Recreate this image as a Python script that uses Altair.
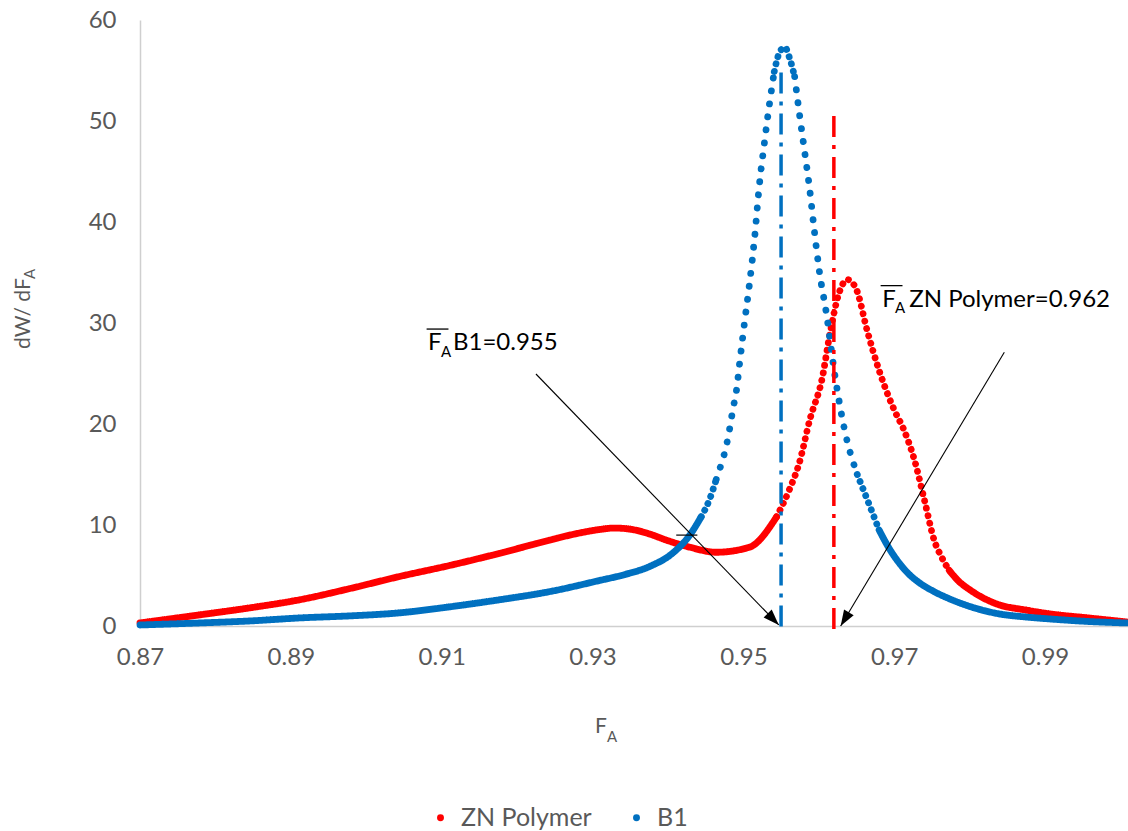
import math
import altair as alt
import pandas as pd

# ZN Polymer: copolymer composition F_A and distribution dW/dF_A
zn_fa = [0.8700, 0.8779, 0.8846, 0.8912, 0.8978, 0.9044, 0.9111, 0.9177, 0.9243, 0.9276,
         0.9309, 0.9329, 0.9353, 0.9376, 0.9398, 0.9429, 0.9464, 0.9508, 0.9544, 0.9561,
         0.9574, 0.9588, 0.9605, 0.9614, 0.9627, 0.9638, 0.9650, 0.9664, 0.9680, 0.9700,
         0.9713, 0.9727, 0.9740, 0.9753, 0.9763, 0.9773, 0.9786, 0.9800, 0.9820, 0.9839,
         0.9873, 0.9906, 0.9957, 1.0008]
zn_w = [0.3, 1.1, 1.8, 2.6, 3.7, 4.9, 6.0, 7.2, 8.5, 9.1,
        9.55, 9.7, 9.55, 9.1, 8.5, 7.8, 7.3, 7.8, 10.8, 13.5,
        16.1, 20.4, 24.7, 28.6, 33.0, 34.3, 33.3, 29.3, 25.3, 21.4,
        19.4, 16.4, 12.5, 8.5, 6.8, 5.5, 4.4, 3.6, 2.7, 2.1,
        1.6, 1.2, 0.8, 0.4]

# B1: copolymer composition F_A and distribution dW/dF_A
b1_fa = [0.8700, 0.8779, 0.8846, 0.8912, 0.8978, 0.9044, 0.9111, 0.9177, 0.9243, 0.9309,
         0.9343, 0.9376, 0.9406, 0.9429, 0.9444, 0.9455, 0.9464, 0.9471, 0.9477, 0.9482,
         0.9486, 0.9491, 0.9495, 0.9502, 0.9508, 0.9515, 0.9521, 0.9528, 0.9535, 0.9541,
         0.9548, 0.9555, 0.9561, 0.9568, 0.9574, 0.9581, 0.9588, 0.9594, 0.9601, 0.9610,
         0.9621, 0.9634, 0.9651, 0.9667, 0.9680, 0.9694, 0.9707, 0.9720, 0.9733, 0.9753,
         0.9773, 0.9806, 0.9839, 0.9873, 0.9906, 0.9957, 1.0008]
b1_w = [0.1, 0.3, 0.5, 0.8, 1.0, 1.3, 1.9, 2.6, 3.4, 4.5,
        5.1, 5.9, 7.2, 9.0, 10.8, 12.5, 14.5, 16.1, 17.7, 19.6,
        21.4, 23.4, 26.0, 30.3, 33.8, 38.5, 43.5, 47.9, 51.9, 54.9,
        56.8, 57.3, 56.3, 54.4, 50.9, 47.1, 43.2, 39.2, 35.0, 31.0,
        25.0, 19.5, 15.0, 12.0, 9.5, 7.6, 6.2, 5.1, 4.3, 3.4,
        2.7, 1.8, 1.2, 0.9, 0.7, 0.45, 0.3]

series_names = ["ZN Polymer", "B1"]
# average composition of each sample
mean_fa = [0.962, 0.955]
mean_labels = ["ZN Polymer=0.962", "B1=0.955"]

x_ticks = [0.87, 0.89, 0.91, 0.93, 0.95, 0.97, 0.99]
y_ticks = [0, 10, 20, 30, 40, 50, 60]

# ---- styling ----
FONT = "Lato"
GRAY = "#595959"
RED = "#FF0000"
BLUE = "#0070C0"
W, H = 988, 606
X_DOMAIN = [0.87, 1.001]
Y_DOMAIN = [0, 60]
PX_X = W / (X_DOMAIN[1] - X_DOMAIN[0])
PX_Y = H / (Y_DOMAIN[1] - Y_DOMAIN[0])

# marker density along each curve: dense (reads as solid), beaded, sparse dots
zn_runs = [(0.8700, 0.9544, "solid"), (0.9544, 0.9773, "mid"), (0.9773, 1.0008, "solid")]
b1_runs = [(0.8700, 0.9444, "solid"), (0.9444, 0.9464, "mid"), (0.9464, 0.9541, "steep"),
           (0.9541, 0.9568, "mid"), (0.9568, 0.9651, "steep"), (0.9651, 0.9680, "mid"),
           (0.9680, 1.0008, "solid")]


def curve_frame(name, xs, ys, runs):
    rows = []
    for i, (a, b, style) in enumerate(runs):
        for x, y in zip(xs, ys):
            if a - 1e-9 <= x <= b + 1e-9:
                rows.append({"fa": x, "w": y, "series": name, "style": style,
                             "seg": f"{name}-{i}"})
    return pd.DataFrame(rows)


zn_df = curve_frame("ZN Polymer", zn_fa, zn_w, zn_runs)
b1_df = curve_frame("B1", b1_fa, b1_w, b1_runs)
all_df = pd.concat([zn_df, b1_df], ignore_index=True)

x_scale = alt.Scale(domain=X_DOMAIN, nice=False, zero=False)
y_scale = alt.Scale(domain=Y_DOMAIN, nice=False, zero=False)
color_scale = alt.Scale(domain=series_names, range=[RED, BLUE])
dash_scale = alt.Scale(domain=["solid", "mid", "steep"],
                       range=[[1, 0], [0.1, 7.5], [0.1, 13]])

x_axis = alt.Axis(values=x_ticks, format=".2f", title=None, ticks=False, grid=False,
                  labelFont=FONT, labelFontSize=24, labelColor=GRAY, labelPadding=19,
                  domainColor="#CFCFCF", domainWidth=1.5, labelFlush=False)
y_axis = alt.Axis(values=y_ticks, title=None, ticks=False, grid=False,
                  labelFont=FONT, labelFontSize=24, labelColor=GRAY, labelPadding=24,
                  domainColor="#CFCFCF", domainWidth=1.5)


def X(field):
    return alt.X(field, scale=x_scale, axis=x_axis)


def Y(field):
    return alt.Y(field, scale=y_scale, axis=y_axis)


def curve_layer(df, color):
    return alt.Chart(df).mark_line(
        color=color, strokeWidth=6.8, strokeCap="round", strokeJoin="round",
        interpolate="monotone"
    ).encode(
        x=X("fa:Q"),
        y=Y("w:Q"),
        strokeDash=alt.StrokeDash("style:N", scale=dash_scale, legend=None),
        detail="seg:N",
        order=alt.Order("fa:Q"),
    )


zn_layer = curve_layer(zn_df, RED)
b1_layer = curve_layer(b1_df, BLUE)

# invisible markers that carry the series legend
legend_layer = alt.Chart(all_df).mark_circle(opacity=0, size=10).encode(
    x=X("fa:Q"),
    y=Y("w:Q"),
    color=alt.Color("series:N", scale=color_scale, legend=alt.Legend(
        title=None, orient="none", legendX=288, legendY=785, direction="horizontal",
        symbolType="circle", symbolSize=48, symbolOpacity=1, symbolStrokeWidth=0,
        labelFont=FONT, labelFontSize=25, labelColor=GRAY, labelOffset=8,
        columnPadding=32)),
)


# dash-dot markers at the average composition
def mean_layer(i, color, top):
    df = pd.DataFrame({"fa": [mean_fa[i]], "top": [top], "base": [-0.4]})
    return alt.Chart(df).mark_rule(color=color, strokeWidth=3.5,
                                   strokeDash=[21, 8, 4, 8]).encode(
        x=X("fa:Q"), y=Y("top:Q"), y2="base:Q")


zn_mean = mean_layer(0, RED, 50.5)
b1_mean = mean_layer(1, BLUE, 54.8)

# annotation labels: F with overbar and subscript A, then the value text
ann_main = pd.DataFrame({
    "t": ["F", "F", mean_labels[1], mean_labels[0]],
    "fa": [0.9082, 0.9684, 0.9115, 0.9720],
    "w": [27.3, 31.6, 27.3, 31.6],
})
ann_sub = pd.DataFrame({"t": ["A", "A"], "fa": [0.9099, 0.9701], "w": [26.6, 31.0]})
ann_bar = pd.DataFrame({"fa": [0.9080, 0.9682], "fa2": [0.9109, 0.9711], "w": [29.4, 33.7]})

ann_main_layer = alt.Chart(ann_main).mark_text(
    font=FONT, fontSize=24, color="black", align="left", baseline="alphabetic"
).encode(x=X("fa:Q"), y=Y("w:Q"), text="t:N")
ann_sub_layer = alt.Chart(ann_sub).mark_text(
    font=FONT, fontSize=15, color="black", align="left", baseline="alphabetic"
).encode(x=X("fa:Q"), y=Y("w:Q"), text="t:N")
ann_bar_layer = alt.Chart(ann_bar).mark_rule(color="black", strokeWidth=1.3).encode(
    x=X("fa:Q"), x2="fa2:Q", y=Y("w:Q"))

# small tick next to the curve crossing
tick_df = pd.DataFrame({"fa": [0.9411], "fa2": [0.9439], "w": [9.0]})
tick_layer = alt.Chart(tick_df).mark_rule(color="black", strokeWidth=1.2).encode(
    x=X("fa:Q"), x2="fa2:Q", y=Y("w:Q"))

# arrows from each label down to its average-composition line
arrow_start = [(0.9846, 27.1), (0.9225, 24.95)]
arrow_tip = [(mean_fa[0] + 0.0009, 0.0), (mean_fa[1] - 0.0003, 0.1)]
arrows = []
for (x0, y0), (x1, y1) in zip(arrow_start, arrow_tip):
    dx = (x1 - x0) * PX_X
    dy = -(y1 - y0) * PX_Y
    ang = math.degrees(math.atan2(dx, -dy)) % 360
    arrows.append({"x0": x0, "y0": y0, "x1": x1, "y1": y1, "ang": ang})
arrow_df = pd.DataFrame(arrows)

shaft_layer = alt.Chart(arrow_df).mark_rule(color="black", strokeWidth=1.1).encode(
    x=X("x0:Q"), x2="x1:Q", y=Y("y0:Q"), y2="y1:Q")
head_layer = alt.Chart(arrow_df).mark_point(
    shape="M0,0L-0.7,2L0.7,2Z", filled=True, size=256, color="black", opacity=1,
    strokeWidth=0
).encode(x=X("x1:Q"), y=Y("y1:Q"), angle=alt.Angle("ang:Q", scale=None))


# axis titles with subscripts
def title_text(t, x, y, size, angle=0):
    return alt.Chart(pd.DataFrame({"t": [t]})).mark_text(
        font=FONT, fontSize=size, color=GRAY, align="left", baseline="alphabetic",
        angle=angle
    ).encode(x=alt.value(x), y=alt.value(y), text="t:N")


titles = [
    title_text("F", 455, 713, 21),
    title_text("A", 467, 722, 15),
    title_text("dW/ dF", -110, 329, 21, angle=270),
    title_text("A", -105, 259, 15, angle=270),
]

chart = alt.layer(
    zn_layer, b1_layer, legend_layer, zn_mean, b1_mean,
    ann_main_layer, ann_sub_layer, ann_bar_layer, tick_layer,
    shaft_layer, head_layer, *titles
).properties(
    width=W, height=H,
    padding={"left": 140, "top": 20, "right": 0, "bottom": 205},
    autosize=alt.AutoSizeParams(type="none"),
).configure(font=FONT).configure_view(stroke=None)

chart.save("out.html", embed_options={"renderer": "svg", "actions": False})
